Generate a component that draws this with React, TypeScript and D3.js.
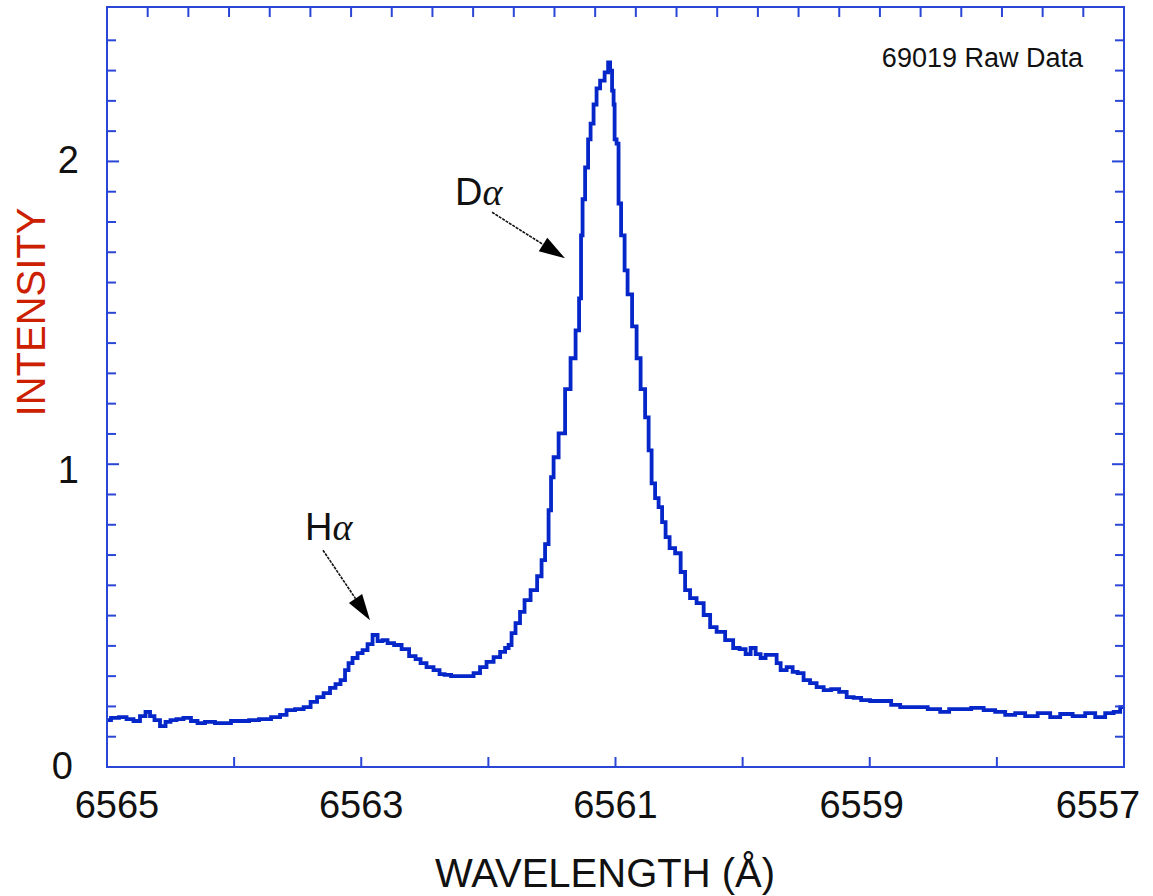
import React from "react";
import * as d3 from "d3";

// wavelength (Å) and raw intensity
const wavelength = [
  6565.0, 6564.937, 6564.874, 6564.819, 6564.764, 6564.717, 6564.677, 6564.646, 6564.607, 6564.559,
  6564.52, 6564.481, 6564.426, 6564.371, 6564.308, 6564.268, 6564.19, 6564.111, 6564.056, 6563.993,
  6563.914, 6563.851, 6563.757, 6563.662, 6563.615, 6563.56, 6563.481, 6563.426, 6563.371, 6563.324,
  6563.269, 6563.222, 6563.183, 6563.143, 6563.112, 6563.088, 6563.049, 6563.009, 6562.97, 6562.931,
  6562.891, 6562.852, 6562.813, 6562.773, 6562.71, 6562.655, 6562.592, 6562.553, 6562.514, 6562.459,
  6562.404, 6562.364, 6562.325, 6562.262, 6562.207, 6562.144, 6562.089, 6562.042, 6561.987, 6561.931,
  6561.884, 6561.853, 6561.829, 6561.806, 6561.767, 6561.735, 6561.696, 6561.64, 6561.593, 6561.57,
  6561.538, 6561.515, 6561.499, 6561.475, 6561.42, 6561.373, 6561.334, 6561.294, 6561.279, 6561.263,
  6561.255, 6561.223, 6561.208, 6561.184, 6561.161, 6561.137, 6561.105, 6561.066, 6561.05, 6561.035,
  6561.019, 6561.011, 6561.003, 6560.98, 6560.972, 6560.94, 6560.917, 6560.893, 6560.846, 6560.822,
  6560.783, 6560.751, 6560.728, 6560.704, 6560.673, 6560.649, 6560.618, 6560.594, 6560.555, 6560.507,
  6560.468, 6560.437, 6560.39, 6560.334, 6560.279, 6560.232, 6560.177, 6560.098, 6560.051, 6559.996,
  6559.957, 6559.917, 6559.878, 6559.839, 6559.8, 6559.744, 6559.721, 6559.681, 6559.626, 6559.587,
  6559.548, 6559.493, 6559.446, 6559.39, 6559.335, 6559.272, 6559.209, 6559.154, 6559.099, 6559.036,
  6558.958, 6558.863, 6558.8, 6558.721, 6558.603, 6558.485, 6558.407, 6558.344, 6558.249, 6558.155,
  6558.053, 6557.974, 6557.895, 6557.817, 6557.738, 6557.62, 6557.541, 6557.463, 6557.345, 6557.266,
  6557.187, 6557.109, 6557.054, 6557.006,
];
const intensity = [
  0.155, 0.162, 0.165, 0.158, 0.152, 0.168, 0.182, 0.168, 0.155, 0.135,
  0.149, 0.155, 0.158, 0.162, 0.152, 0.145, 0.149, 0.145, 0.145, 0.152,
  0.152, 0.155, 0.158, 0.165, 0.172, 0.188, 0.191, 0.198, 0.215, 0.231,
  0.244, 0.261, 0.274, 0.287, 0.32, 0.343, 0.36, 0.376, 0.386, 0.406,
  0.436, 0.416, 0.419, 0.409, 0.403, 0.389, 0.366, 0.356, 0.343, 0.33,
  0.32, 0.307, 0.304, 0.3, 0.3, 0.3, 0.31, 0.33, 0.347, 0.363,
  0.38, 0.393, 0.403, 0.442, 0.475, 0.512, 0.551, 0.584, 0.63, 0.683,
  0.736, 0.848, 0.957, 1.023, 1.102, 1.248, 1.35, 1.442, 1.548, 1.756,
  1.875, 1.98, 2.073, 2.125, 2.188, 2.241, 2.267, 2.294, 2.327, 2.3,
  2.234, 2.188, 2.073, 2.059, 1.861, 1.756, 1.64, 1.561, 1.455, 1.35,
  1.248, 1.155, 1.046, 0.937, 0.888, 0.858, 0.809, 0.759, 0.723, 0.706,
  0.644, 0.584, 0.558, 0.541, 0.502, 0.462, 0.446, 0.419, 0.393, 0.389,
  0.373, 0.393, 0.373, 0.36, 0.37, 0.37, 0.343, 0.32, 0.33, 0.314,
  0.31, 0.287, 0.277, 0.264, 0.254, 0.257, 0.248, 0.231, 0.228, 0.221,
  0.218, 0.218, 0.205, 0.198, 0.198, 0.191, 0.182, 0.191, 0.191, 0.195,
  0.188, 0.182, 0.172, 0.178, 0.168, 0.178, 0.165, 0.175, 0.168, 0.178,
  0.165, 0.178, 0.182, 0.198,
];

const xLabelTicks = [6565, 6563, 6561, 6559, 6557];
const yLabelTicks = [0, 1, 2];

// annotations: label, text anchor point, arrow start, arrow tip (data units)
const annLabels = ["D", "H"];
const annText = [[6562.262, 1.855], [6563.442, 0.749]];
const annFrom = [[6561.971, 1.832], [6563.301, 0.716]];
const annTip = [[6561.397, 1.68], [6562.931, 0.485]];

const W = 1153;
const H = 896;
const FONT = "'Liberation Sans', Arial, Helvetica, sans-serif";
const AXIS = "#2a46d6";
const TRACE = "#0526c8";

export default function App() {
  const x = d3.scaleLinear().domain([6565, 6557]).range([107, 1124]);
  const y = d3.scaleLinear().domain([0, 2.51]).range([767, 7]);
  const [x0, x1] = x.range();
  const [y0, y1] = y.range();

  const pts = wavelength.map((w, i) => [w, intensity[i]] as [number, number]);
  const line = d3
    .line<[number, number]>()
    .x((d) => x(d[0]))
    .y((d) => y(d[1]))
    .curve(d3.curveStep);

  const minorX = d3.range(6564, 6557, -1);
  const minorY = d3.range(1, 25).map((k) => k / 10);
  // top axis carries a different scale, 25 divisions across the frame
  const topTicks = d3.range(1, 25).map((k) => x0 + ((x1 - x0) * k) / 25);

  return (
    <svg
      width={W}
      height={H}
      style={{ position: "absolute", left: 0, top: 0, background: "#fff" }}
      fontFamily={FONT}
    >
      <path d={line(pts) || ""} fill="none" stroke={TRACE} strokeWidth={3.8} strokeLinejoin="miter" />

      {/* frame */}
      <rect x={x0} y={y1} width={x1 - x0} height={y0 - y1} fill="none" stroke={AXIS} strokeWidth={2} />

      {minorX.map((v) => (
        <line key={"bx" + v} x1={x(v)} x2={x(v)} y1={y0} y2={y0 - 10} stroke={AXIS} strokeWidth={2} />
      ))}
      {topTicks.map((px, i) => (
        <line key={"tx" + i} x1={px} x2={px} y1={y1} y2={y1 + 10} stroke={AXIS} strokeWidth={2} />
      ))}
      {minorY.map((v) => {
        const len = Math.abs(v - Math.round(v)) < 1e-6 ? 12 : 9;
        return (
          <g key={"y" + v}>
            <line x1={x0} x2={x0 + len} y1={y(v)} y2={y(v)} stroke={AXIS} strokeWidth={2} />
            <line x1={x1} x2={x1 - len} y1={y(v)} y2={y(v)} stroke={AXIS} strokeWidth={2} />
          </g>
        );
      })}

      {xLabelTicks.map((v, i) => {
        const dx = i === 0 ? 10 : i === xLabelTicks.length - 1 ? -26 : i === 3 ? -8 : 0;
        return (
          <text key={"xl" + v} x={x(v) + dx} y={818} fontSize={38} textAnchor="middle" fill="#111">
            {v}
          </text>
        );
      })}
      {yLabelTicks.map((v) => (
        <text key={"yl" + v} x={v === 0 ? 73 : 79} y={y(v) + (v === 1 ? 19 : 12)} fontSize={38} textAnchor="end" fill="#111">
          {v}
        </text>
      ))}

      <text
        transform={`translate(45, 312) rotate(-90)`}
        fontSize={40}
        textAnchor="middle"
        fill="#cc2000"
      >
        INTENSITY
      </text>
      <text x={605} y={887} fontSize={40} textAnchor="middle" fill="#111">
        WAVELENGTH (Å)
      </text>
      <text x={1083} y={67} fontSize={27} textAnchor="end" fill="#111">
        69019 Raw Data
      </text>

      {annLabels.map((lab, i) => {
        const sx = x(annFrom[i][0]);
        const sy = y(annFrom[i][1]);
        const tx = x(annTip[i][0]);
        const ty = y(annTip[i][1]);
        const ang = Math.atan2(ty - sy, tx - sx);
        const hl = 26;
        const hw = 8;
        const bx = tx - hl * Math.cos(ang);
        const by = ty - hl * Math.sin(ang);
        const nx = -Math.sin(ang) * hw;
        const ny = Math.cos(ang) * hw;
        return (
          <g key={"ann" + lab}>
            <text x={x(annText[i][0])} y={y(annText[i][1])} fontSize={38} fill="#111">
              {lab}
              <tspan fontFamily="'Liberation Serif', 'DejaVu Serif', serif" fontStyle="italic">
                α
              </tspan>
            </text>
            <line x1={sx} y1={sy} x2={bx} y2={by} stroke="#111" strokeWidth={1.6} strokeDasharray="3 1" />
            <path d={`M${tx},${ty}L${bx + nx},${by + ny}L${bx - nx},${by - ny}Z`} fill="#000" />
          </g>
        );
      })}
    </svg>
  );
}
